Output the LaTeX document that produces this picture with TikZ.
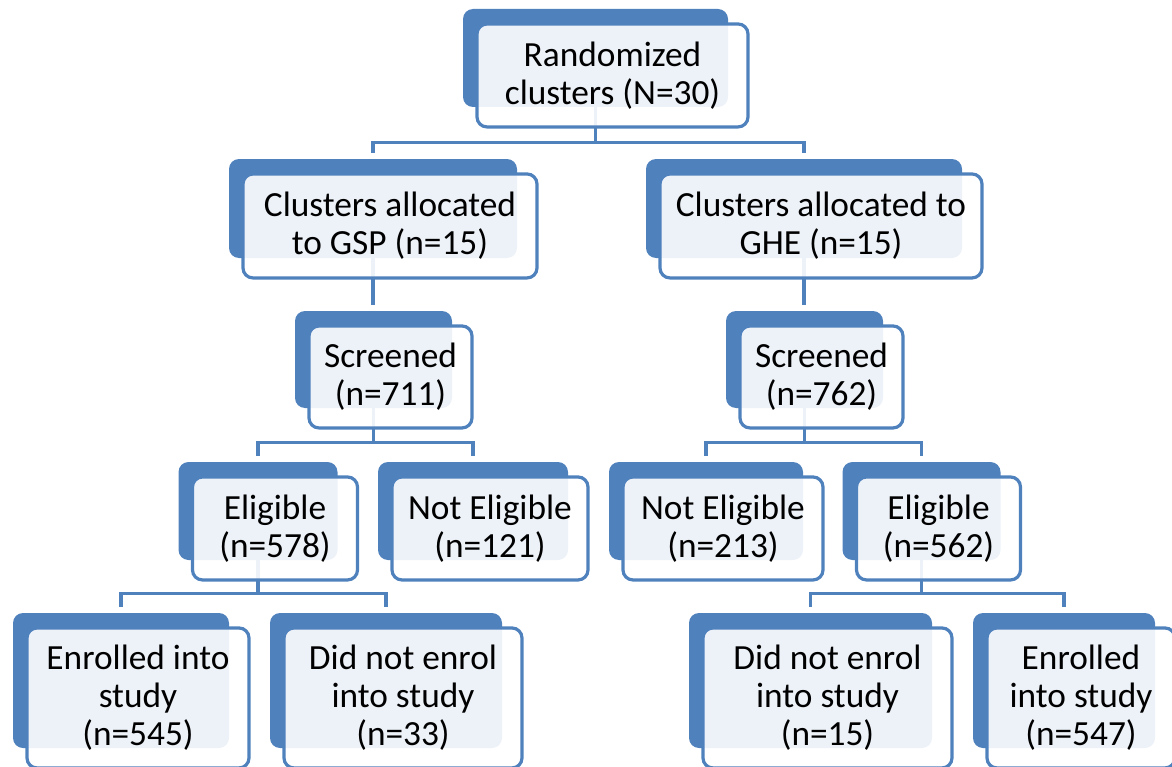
\documentclass[tikz,border=0pt]{standalone}
\usepackage{fontspec}
\setmainfont{Carlito}
\usetikzlibrary{backgrounds}
\definecolor{flowblue}{RGB}{79,129,189}
\tikzset{
  sz/.style 2 args={minimum width=#1*0.75pt, minimum height=#2*0.75pt},
  backbox/.style={fill=flowblue, rounded corners=7.5pt, inner sep=0pt},
  frontbox/.style={draw=flowblue, line width=2.4pt, fill=white, fill opacity=0.9, text opacity=1,
    rounded corners=7.5pt, inner sep=0pt, align=center,
    font=\fontsize{26.5}{28.5}\selectfont, xshift=12.75pt, yshift=-13.1pt},
  conn/.style={draw=flowblue, line width=2.6pt, shorten >=4.5pt}
}
\begin{document}
\begin{tikzpicture}[x=0.75pt, y=-0.75pt]
    \useasboundingbox (0,0) rectangle (1172,767);

    % Top level
    \node[backbox, sz={265}{98}] (top) at (595.5,58) {};
    \node[frontbox, sz={271}{103}] (topf) at (top) {Randomized\\clusters (N=30)};

    % Allocation
    \node[backbox, sz={288}{99}] (gsp) at (373,208.5) {};
    \node[frontbox, sz={294}{104}] (gspf) at (gsp) {Clusters allocated\\to GSP (n=15)};
    \node[backbox, sz={316}{99}] (ghe) at (804,208.5) {};
    \node[frontbox, sz={322}{104}] (ghef) at (ghe) {Clusters allocated to\\GHE (n=15)};

    % Screening
    \node[backbox, sz={157}{97}] (scrL) at (373.5,359.5) {};
    \node[frontbox, sz={163}{102}] (scrLf) at (scrL) {Screened\\(n=711)};
    \node[backbox, sz={157}{97}] (scrR) at (804.5,359.5) {};
    \node[frontbox, sz={163}{102}] (scrRf) at (scrR) {Screened\\(n=762)};

    % Eligibility
    \node[backbox, sz={159}{98}] (eligL) at (258,511) {};
    \node[frontbox, sz={165}{103}] (eligLf) at (eligL) {Eligible\\(n=578)};
    \node[backbox, sz={190}{98}] (notL) at (473,511) {};
    \node[frontbox, sz={196}{103}] (notLf) at (notL) {Not Eligible\\(n=121)};
    \node[backbox, sz={194}{98}] (notR) at (706,511) {};
    \node[frontbox, sz={200}{103}] (notRf) at (notR) {Not Eligible\\(n=213)};
    \node[backbox, sz={158}{98}] (eligR) at (921.5,511) {};
    \node[frontbox, sz={164}{103}] (eligRf) at (eligR) {Eligible\\(n=562)};

    % Enrolment
    \node[backbox, sz={216}{135}] (enrL) at (121,680.5) {};
    \node[frontbox, sz={222}{140}] (enrLf) at (enrL) {Enrolled into\\study\\(n=545)};
    \node[backbox, sz={232}{135}] (didL) at (386,680.5) {};
    \node[frontbox, sz={238}{140}] (didLf) at (didL) {Did not enrol\\into study\\(n=33)};
    \node[backbox, sz={243}{135}] (didR) at (810.5,680.5) {};
    \node[frontbox, sz={249}{140}] (didRf) at (didR) {Did not enrol\\into study\\(n=15)};
    \node[backbox, sz={182}{135}] (enrR) at (1064,680.5) {};
    \node[frontbox, sz={188}{140}] (enrRf) at (enrR) {Enrolled\\into study\\(n=547)};

    % Connectors behind the boxes
    \begin{pgfonlayer}{background}
        \draw[conn] (top.south) -- ++(0,35) -| (gsp.north);
        \draw[conn] (top.south) -- ++(0,35) -| (ghe.north);
        \draw[conn] (gsp.south) -- (gsp.south |- scrL.north);
        \draw[conn] (ghe.south) -- (ghe.south |- scrR.north);
        \draw[conn] (scrL.south) -- ++(0,34) -| (eligL.north);
        \draw[conn] (scrL.south) -- ++(0,34) -| (notL.north);
        \draw[conn] (scrR.south) -- ++(0,34) -| (notR.north);
        \draw[conn] (scrR.south) -- ++(0,34) -| (eligR.north);
        \draw[conn] (eligL.south) -- ++(0,33) -| (enrL.north);
        \draw[conn] (eligL.south) -- ++(0,33) -| (didL.north);
        \draw[conn] (eligR.south) -- ++(0,33) -| (didR.north);
        \draw[conn] (eligR.south) -- ++(0,33) -| (enrR.north);
    \end{pgfonlayer}
\end{tikzpicture}
\end{document}
